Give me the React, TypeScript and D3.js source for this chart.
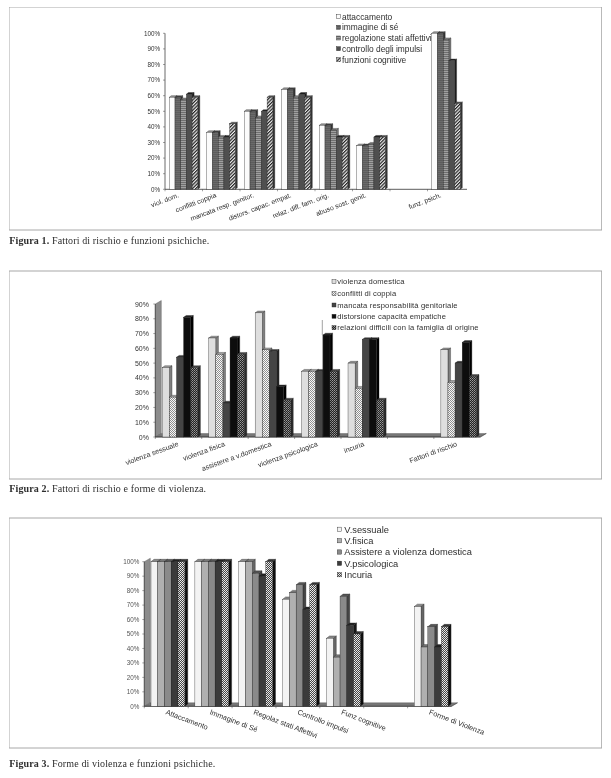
import React from "react";
import * as d3 from "d3";

const categories1 = ["viol. dom.", "conflitti coppia", "mancata resp. genitor.", "distors. capac. empat.", "relaz. diff. fam. orig.", "abuso sost. genit.", "", "funz. psich."];
const names1 = ["attaccamento", "immagine di sé", "regolazione stati affettivi", "controllo degli impulsi", "funzioni cognitive"];
const attaccamento = [59, 36.5, 50, 64, 41, 28, 0, 100];
const immagine = [59, 36.5, 50, 64, 41, 28, 0, 100];
const regolazione = [57.5, 33.5, 46, 59, 38, 29, 0, 96];
const controllo = [61, 33.5, 50, 61, 33.5, 33.5, 0, 82.5];
const funzioni = [59, 42, 59, 59, 33.5, 33.5, 0, 55];

const categories2 = ["violenza sessuale", "violenza fisica", "assistere a v.domestica", "violenza psicologica", "incuria", "", "Fattori di rischio"];
const names2 = ["violenza domestica", "conflitti di coppia", "mancata responsabilità genitoriale", "distorsione capacità empatiche", "relazioni difficili con la famiglia di origine"];
const violenzaDomestica = [47, 67, 84, 44.5, 50, 0, 59];
const conflitti = [27, 56, 59, 44.5, 33, 0, 37];
const mancata = [54, 23, 58, 44.5, 66, 0, 50];
const distorsione = [81, 67, 34, 69, 66, 0, 64];
const relazioni = [47, 56, 25, 44.5, 25, 0, 41];

const categories3 = ["Attaccamento", "Immagine di Sé", "Regolaz stati Affettivi", "Controllo impulsi", "Funz cognitive", "", "Forme di Violenza"];
const names3 = ["V.sessuale", "V.fisica", "Assistere a violenza domestica", "V.psicologica", "Incuria"];
const sessuale = [100, 100, 100, 74, 47, 0, 69];
const fisica = [100, 100, 100, 78.5, 34, 0, 41];
const assistere = [100, 100, 92, 84, 76, 0, 55];
const psicologica = [100, 100, 90, 67, 56, 0, 41];
const incuria = [100, 100, 100, 84, 50, 0, 55];

const ticks1 = [0, 10, 20, 30, 40, 50, 60, 70, 80, 90, 100];
const ticks2 = [0, 10, 20, 30, 40, 50, 60, 70, 80, 90];
const SANS = "'Liberation Sans', Arial, sans-serif";
const SERIF = "'Liberation Serif', 'Times New Roman', serif";
const INK = "#2e2e2e";

type Face = { front: string; side: string; top: string };
type Cfg = {
  cats: string[]; names: string[]; series: number[][]; ticks: number[]; faces: Face[];
  x0: number; x1: number; y0: number; yMax: number; yTop: number;
  offset: number; barW: number; dx: number; dy: number; wall: boolean;
  tickX: number; tickFont: number; tickFill: string;
  catFont: number; catAngle: number; catDx: number; catY: number;
  legX: number; legTextX: number; legSize: number; legFont: number; legY: number[]; legSpacing: number;
};

const cfg1: Cfg = {
  cats: categories1, names: names1, series: [attaccamento, immagine, regolazione, controllo, funzioni], ticks: ticks1,
  faces: [
    { front: "#fbfbfb", side: "#555", top: "#999" },
    { front: "url(#p1b)", side: "#333", top: "#444" },
    { front: "url(#p1c)", side: "#777", top: "#888" },
    { front: "#505050", side: "#1c1c1c", top: "#222" },
    { front: "url(#p1e)", side: "#333", top: "#555" },
  ],
  x0: 165, x1: 465, y0: 189.3, yMax: 100, yTop: 33.3, offset: 4.3, barW: 5.7, dx: 2, dy: 1.6, wall: false,
  tickX: 160, tickFont: 6.3, tickFill: "#333",
  catFont: 6.8, catAngle: -21, catDx: -4.5, catY: 197,
  legX: 336.5, legTextX: 342, legSize: 4, legFont: 8.4, legY: [16.7, 27.3, 38, 48.7, 59.7], legSpacing: 0,
};

const cfg2: Cfg = {
  cats: categories2, names: names2, series: [violenzaDomestica, conflitti, mancata, distorsione, relazioni], ticks: ticks2,
  faces: [
    { front: "#dedede", side: "#808080", top: "#999" },
    { front: "url(#p2b)", side: "#808080", top: "#aaa" },
    { front: "#444", side: "#222", top: "#333" },
    { front: "#111", side: "#000", top: "#222" },
    { front: "url(#p2e)", side: "#2a2a2a", top: "#444" },
  ],
  x0: 155.3, x1: 480.3, y0: 437, yMax: 90, yTop: 304, offset: 7, barW: 7.1, dx: 2.6, dy: 1.8, wall: true,
  tickX: 149, tickFont: 7, tickFill: "#333",
  catFont: 7.1, catAngle: -20, catDx: 0.5, catY: 446,
  legX: 332, legTextX: 337.3, legSize: 4, legFont: 7.6, legY: [281.7, 293.7, 305, 316.3, 327.7], legSpacing: 0.15,
};

const cfg3: Cfg = {
  cats: categories3, names: names3, series: [sessuale, fisica, assistere, psicologica, incuria], ticks: ticks1,
  faces: [
    { front: "#f3f3f3", side: "#666", top: "#888" },
    { front: "#b0b0b0", side: "#666", top: "#777" },
    { front: "#8a8a8a", side: "#444", top: "#555" },
    { front: "#3a3a3a", side: "#151515", top: "#222" },
    { front: "url(#p3e)", side: "#111", top: "#333" },
  ],
  x0: 144.3, x1: 451.5, y0: 706.3, yMax: 100, yTop: 561.7, offset: 6.7, barW: 6.75, dx: 3, dy: 2.4, wall: true,
  tickX: 139.3, tickFont: 6.3, tickFill: "#555",
  catFont: 7.3, catAngle: 21, catDx: -1, catY: 714,
  legX: 337.3, legTextX: 344.3, legSize: 4.3, legFont: 9.3, legY: [529.3, 540.7, 552, 563.3, 574.7], legSpacing: 0,
};

function Chart({ c }: { c: Cfg }) {
  const x = d3.scaleBand<number>().domain(d3.range(c.cats.length)).range([c.x0, c.x1]);
  const y = d3.scaleLinear().domain([0, c.yMax]).range([c.y0, c.yTop]);
  const wdx = c.wall ? 6 : 0;
  const wdy = c.wall ? 3.5 : 0;
  return (
    <g>
      {c.wall && (
        <g stroke="#555" strokeWidth={0.4}>
          <polygon fill="#8c8c8c" points={`${c.x0},${c.y0} ${c.x0 + wdx},${c.y0 - wdy} ${c.x0 + wdx},${c.yTop - wdy} ${c.x0},${c.yTop}`} />
          <polygon fill="#777" points={`${c.x0},${c.y0} ${c.x0 + wdx},${c.y0 - wdy} ${c.x1 + wdx},${c.y0 - wdy} ${c.x1},${c.y0}`} />
          <line x1={c.x1} y1={c.y0} x2={c.x1 + wdx} y2={c.y0 - wdy} stroke="#222" />
        </g>
      )}
      <line x1={c.x0} x2={c.x0} y1={c.y0} y2={c.yTop} stroke="#444" strokeWidth={0.8} />
      <line x1={c.x0} x2={c.x1 + (c.wall ? 0 : 2)} y1={c.y0} y2={c.y0} stroke="#333" strokeWidth={0.8} />
      {c.ticks.map((t) => (
        <g key={t}>
          <line x1={c.x0 - 2} x2={c.x0} y1={y(t)} y2={y(t)} stroke="#444" strokeWidth={0.5} />
          <text x={c.tickX} y={y(t) + c.tickFont * 0.36} textAnchor="end" fontFamily={SANS} fontSize={c.tickFont} fill={c.tickFill}>{t}%</text>
        </g>
      ))}
      {c.cats.map((_, i) => (
        <line key={i} x1={x(i)!} x2={x(i)!} y1={c.y0} y2={c.y0 + 2} stroke="#444" strokeWidth={0.5} />
      ))}
      {c.cats.map((_, i) =>
        c.series.map((s, j) => {
          const v = s[i];
          if (!v) return null;
          const bx = x(i)! + c.offset + j * c.barW;
          const by = y(v);
          const w = c.barW;
          return (
            <g key={`${i}-${j}`} stroke="#222" strokeWidth={0.35}>
              <polygon fill={c.faces[j].side} points={`${bx + w},${by} ${bx + w + c.dx},${by - c.dy} ${bx + w + c.dx},${c.y0 - c.dy} ${bx + w},${c.y0}`} />
              <polygon fill={c.faces[j].top} points={`${bx},${by} ${bx + c.dx},${by - c.dy} ${bx + w + c.dx},${by - c.dy} ${bx + w},${by}`} />
              <rect x={bx} y={by} width={w} height={c.y0 - by} fill={c.faces[j].front} />
            </g>
          );
        })
      )}
      {c.cats.map((t, i) => {
        const px = x(i)! + x.bandwidth() / 2 + c.catDx;
        return (
          <text key={i} transform={`translate(${px},${c.catY}) rotate(${c.catAngle})`} textAnchor={c.catAngle < 0 ? "end" : "start"} fontFamily={SANS} fontSize={c.catFont} fill={INK}>{t}</text>
        );
      })}
      {c.names.map((n, i) => (
        <g key={n}>
          <rect x={c.legX} y={c.legY[i] - c.legSize / 2} width={c.legSize} height={c.legSize} fill={c.faces[i].front} stroke="#222" strokeWidth={0.4} />
          <text x={c.legTextX} y={c.legY[i] + c.legFont * 0.35} fontFamily={SANS} fontSize={c.legFont} letterSpacing={c.legSpacing} fill={INK}>{n}</text>
        </g>
      ))}
    </g>
  );
}

const frames = [[7, 230], [271, 479], [518, 748]];
const captions: [string, string, number][] = [
  ["Figura 1.", " Fattori di rischio e funzioni psichiche.", 244],
  ["Figura 2.", " Fattori di rischio e forme di violenza.", 492],
  ["Figura 3.", " Forme di violenza e funzioni psichiche.", 767],
];

export default function App() {
  return (
    <svg width={611} height={778} viewBox="0 0 611 778" style={{ position: "absolute", left: 0, top: 0, background: "#fff" }}>
      <defs>
        <filter id="soft" x="0" y="0" width="100%" height="100%"><feGaussianBlur stdDeviation={0.4} /></filter>
        <pattern id="p1b" width={2} height={2} patternUnits="userSpaceOnUse"><rect width={2} height={2} fill="#6a6a6a" /><rect width={2} height={1} fill="#5c5c5c" /></pattern>
        <pattern id="p1c" width={2} height={2} patternUnits="userSpaceOnUse"><rect width={2} height={2} fill="#a0a0a0" /><rect width={2} height={1} fill="#6e6e6e" /></pattern>
        <pattern id="p1e" width={2.4} height={2.4} patternUnits="userSpaceOnUse" patternTransform="rotate(45)"><rect width={2.4} height={2.4} fill="#eee" /><rect width={1.2} height={2.4} fill="#222" /></pattern>
        <pattern id="p2b" width={2} height={2} patternUnits="userSpaceOnUse"><rect width={2} height={2} fill="#f8f8f8" /><rect width={0.9} height={0.9} fill="#777" /><rect x={1} y={1} width={0.9} height={0.9} fill="#777" /></pattern>
        <pattern id="p2e" width={2} height={2} patternUnits="userSpaceOnUse"><rect width={2} height={2} fill="#222" /><rect width={1} height={1} fill="#999" /><rect x={1} y={1} width={1} height={1} fill="#777" /></pattern>
        <pattern id="p3e" width={2} height={2} patternUnits="userSpaceOnUse"><rect width={2} height={2} fill="#444" /><rect x={0} y={0} width={1} height={1} fill="#eee" /><rect x={1} y={1} width={1} height={1} fill="#ddd" /></pattern>
      </defs>
      <g filter="url(#soft)">
        {frames.map(([a, b]) => (
          <rect key={a} x={9} y={a} width={592.7} height={b - a} fill="#fff" stroke="#a8a8a8" strokeWidth={1} />
        ))}
        <Chart c={cfg1} />
        <Chart c={cfg2} />
        <Chart c={cfg3} />
        <line x1={322.3} x2={322.3} y1={320} y2={335} stroke="#444" strokeWidth={0.5} />
        {captions.map(([b, t, yy]) => (
          <text key={b} x={9.3} y={yy} fontFamily={SERIF} fontSize={10} letterSpacing={0.13} fill={INK}><tspan fontWeight="bold">{b}</tspan>{t}</text>
        ))}
      </g>
    </svg>
  );
}
